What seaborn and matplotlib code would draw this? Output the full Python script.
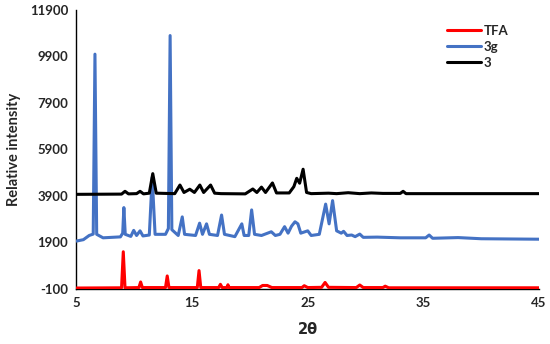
import matplotlib
matplotlib.use("Agg")
import matplotlib.pyplot as plt
import seaborn as sns
import pandas as pd

# 2theta / intensity vertices
tfa_x = [5.0, 8.9, 9.05, 9.2, 10.4, 10.55, 10.7, 12.7, 12.85, 13.0, 15.45, 15.6, 15.75,
         17.3, 17.45, 17.6, 18.0, 18.1, 18.2, 20.8, 21.1, 21.5, 21.9, 24.5, 24.7, 25.0,
         26.2, 26.5, 26.8, 29.2, 29.5, 29.8, 31.5, 31.7, 32.0, 45.0]
tfa_y = [-60, -50, 1500, -50, -40, 200, -40, -40, 460, -40, -40, 690, -40,
         -40, 100, -40, -40, 80, -40, -40, 50, 50, -40, -40, 40, -40,
         -30, 180, -30, -40, 70, -40, -40, 20, -50, -50]

g3_x = [5.0, 5.6, 6.1, 6.45, 6.6, 6.75, 7.3, 8.8, 9.0, 9.1, 9.22, 9.7, 9.95, 10.2, 10.5,
        10.75, 11.3, 11.55, 11.8, 12.7, 12.95, 13.1, 13.25, 13.8, 14.15, 14.35, 15.3,
        15.65, 15.9, 16.25, 16.5, 17.2, 17.55, 17.8, 18.7, 19.3, 19.5, 19.9, 20.15, 20.4,
        21.0, 21.85, 22.2, 22.6, 23.0, 23.3, 23.6, 23.9, 24.15, 24.4, 25.0, 25.3, 26.0,
        26.55, 26.85, 27.15, 27.5, 27.9, 28.1, 28.4, 28.8, 29.1, 29.5, 29.8, 31.0, 33.0,
        35.2, 35.5, 35.8, 38.0, 40.0, 45.0]
g3_y = [1960, 2020, 2200, 2260, 10000, 2250, 2100, 2140, 2300, 3400, 2250, 2160, 2420, 2200, 2400,
        2180, 2220, 4700, 2250, 2250, 2500, 10800, 2450, 2200, 3000, 2250, 2200,
        2730, 2250, 2700, 2250, 2200, 3080, 2250, 2150, 2700, 2200, 2200, 3300, 2250,
        2200, 2360, 2200, 2250, 2580, 2300, 2600, 2790, 2700, 2300, 2400, 2200, 2250,
        3550, 2700, 3700, 2400, 2300, 2380, 2200, 2220, 2150, 2260, 2120, 2130, 2100,
        2100, 2220, 2080, 2110, 2060, 2040]

c3_x = [5.0, 8.9, 9.2, 9.5, 10.2, 10.5, 10.8, 11.3, 11.6, 11.9, 13.5, 13.95, 14.3, 14.8,
        15.2, 15.67, 16.0, 16.6, 16.95, 17.5, 19.6, 20.25, 20.6, 21.0, 21.35, 21.95, 22.3,
        23.4, 23.8, 24.05, 24.3, 24.6, 24.9, 25.3, 26.8, 27.5, 28.5, 29.5, 30.5, 31.5,
        33.0, 33.25, 33.5, 34.2, 45.0]
c3_y = [3970, 3980, 4100, 3990, 4000, 4100, 3990, 4020, 4860, 4020, 4000, 4370, 4050, 4190,
        4050, 4370, 4050, 4370, 4020, 4000, 3990, 4200, 4050, 4280, 4050, 4460, 4030,
        4030, 4300, 4660, 4450, 5050, 4050, 4000, 4020, 4000, 4040, 4000, 4030, 4010,
        4010, 4100, 4000, 4000, 4000]

series = ["TFA", "3g", "3"]
colors = {"TFA": "#FF0000", "3g": "#4472C4", "3": "#000000"}
y_ticks = [-100, 1900, 3900, 5900, 7900, 9900, 11900]
x_ticks = [5, 15, 25, 35, 45]

df = pd.concat([
    pd.DataFrame({"two_theta": tfa_x, "intensity": tfa_y, "sample": "TFA"}),
    pd.DataFrame({"two_theta": g3_x, "intensity": g3_y, "sample": "3g"}),
    pd.DataFrame({"two_theta": c3_x, "intensity": c3_y, "sample": "3"}),
], ignore_index=True)

sns.set_style("white")
plt.rcParams["font.family"] = ["Lato", "DejaVu Sans"]
plt.rcParams["axes.unicode_minus"] = False

fig, ax = plt.subplots(figsize=(5.5, 3.44), dpi=100)
fig.subplots_adjust(left=0.139, right=0.98, top=0.971, bottom=0.16)

sns.lineplot(data=df, x="two_theta", y="intensity", hue="sample", hue_order=series,
             palette=colors, estimator=None, sort=False, linewidth=2.2, ax=ax, zorder=3)

ax.set_xlim(5, 45)
ax.set_ylim(-100, 11900)
ax.set_xticks(x_ticks)
ax.set_yticks(y_ticks)
ax.tick_params(length=0, labelsize=9.5, pad=6)
for lab in ax.get_xticklabels() + ax.get_yticklabels():
    lab.set_fontweight("bold")

ax.set_xlabel("2θ", fontsize=10.5, fontweight="bold", family=["DejaVu Sans"], labelpad=9)
ax.set_ylabel("Relative intensity", fontsize=10.5, fontweight="bold", labelpad=6)

for side in ["top", "right"]:
    ax.spines[side].set_visible(False)
for side in ["left", "bottom"]:
    ax.spines[side].set_color("black")
    ax.spines[side].set_linewidth(1)

leg = ax.legend(loc="upper right", bbox_to_anchor=(0.96, 0.99), frameon=False,
                handlelength=2.6, handletextpad=0.2, labelspacing=0.3,
                prop={"weight": "bold", "size": 9.5})
for line in leg.get_lines():
    line.set_linewidth(2.2)

plt.savefig("out.png", dpi=100)
